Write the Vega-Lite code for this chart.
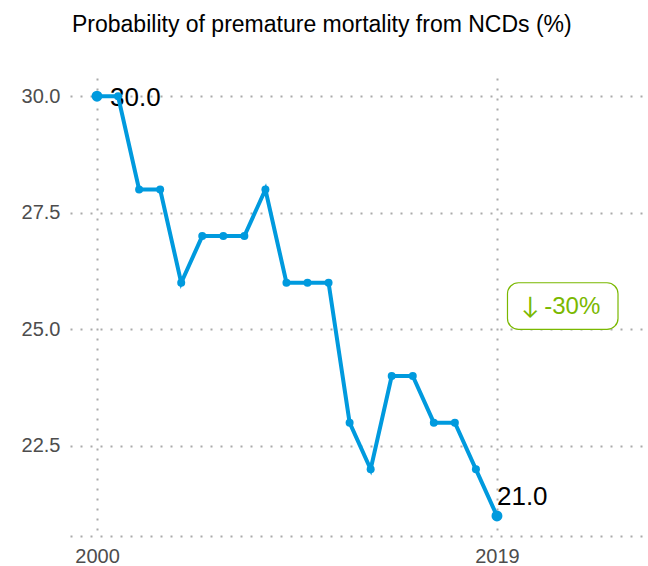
{
  "$schema": "https://vega.github.io/schema/vega-lite/v6.json",
  "width": 578,
  "height": 458,
  "autosize": {"type": "none"},
  "padding": {"left": 70, "top": 78, "right": 0, "bottom": 30},
  "background": "white",
  "title": {
    "text": "Probability of premature mortality from NCDs (%)",
    "anchor": "start",
    "frame": "group",
    "font": "Liberation Sans",
    "fontSize": 23,
    "fontWeight": "normal",
    "color": "#000000",
    "offset": 41,
    "dx": 2
  },
  "config": {
    "view": {"stroke": null},
    "axis": {
      "labelFont": "Liberation Sans",
      "labelFontSize": 20,
      "labelColor": "#4d4d4d",
      "ticks": false,
      "gridColor": "#aaaaaa",
      "gridDash": [2, 8],
      "gridWidth": 2,
      "title": null
    }
  },
  "datasets": {
    "series": [
      {"year": 2000, "value": 30},
      {"year": 2001, "value": 30},
      {"year": 2002, "value": 28},
      {"year": 2003, "value": 28},
      {"year": 2004, "value": 26},
      {"year": 2005, "value": 27},
      {"year": 2006, "value": 27},
      {"year": 2007, "value": 27},
      {"year": 2008, "value": 28},
      {"year": 2009, "value": 26},
      {"year": 2010, "value": 26},
      {"year": 2011, "value": 26},
      {"year": 2012, "value": 23},
      {"year": 2013, "value": 22},
      {"year": 2014, "value": 24},
      {"year": 2015, "value": 24},
      {"year": 2016, "value": 23},
      {"year": 2017, "value": 23},
      {"year": 2018, "value": 22},
      {"year": 2019, "value": 21}
    ],
    "badge": [
      {"x1": 2019.5, "x2": 2024.75, "y1": 25.0, "y2": 26.0, "xm": 2022.1, "ym": 25.5, "arrow": "↓", "label": "-30%"}
    ]
  },
  "layer": [
    {
      "data": {"name": "series"},
      "transform": [{"filter": "datum.year == 2000"}],
      "mark": {"type": "text", "align": "left", "baseline": "alphabetic", "dx": 13, "dy": 9.5, "font": "Liberation Sans", "fontSize": 26, "color": "#000000"},
      "encoding": {
        "x": {
          "field": "year", "type": "quantitative",
          "scale": {"domain": [1998.717, 2026.175], "nice": false, "zero": false},
          "axis": {
            "values": [2000, 2019], "format": "d",
            "grid": true, "domain": true, "domainColor": "#aaaaaa", "domainDash": [2, 8], "domainWidth": 2,
            "labelPadding": 10
          }
        },
        "y": {
          "field": "value", "type": "quantitative",
          "scale": {"domain": [20.57, 30.39], "nice": false, "zero": false},
          "axis": {
            "values": [22.5, 25, 27.5, 30], "format": ".1f",
            "grid": true, "domain": false, "labelPadding": 10
          }
        },
        "text": {"field": "value", "type": "quantitative", "format": ".1f"}
      }
    },
    {
      "data": {"name": "series"},
      "mark": {"type": "line", "color": "#009ADE", "strokeWidth": 4},
      "encoding": {
        "x": {"field": "year", "type": "quantitative"},
        "y": {"field": "value", "type": "quantitative"}
      }
    },
    {
      "data": {"name": "series"},
      "mark": {"type": "point", "filled": true, "opacity": 1, "color": "#009ADE", "size": 64},
      "encoding": {
        "x": {"field": "year", "type": "quantitative"},
        "y": {"field": "value", "type": "quantitative"}
      }
    },
    {
      "data": {"name": "series"},
      "transform": [{"filter": "datum.year == 2000 || datum.year == 2019"}],
      "mark": {"type": "point", "filled": true, "opacity": 1, "color": "#009ADE", "size": 120},
      "encoding": {
        "x": {"field": "year", "type": "quantitative"},
        "y": {"field": "value", "type": "quantitative"}
      }
    },
    {
      "data": {"name": "series"},
      "transform": [{"filter": "datum.year == 2019"}],
      "mark": {"type": "text", "align": "left", "baseline": "alphabetic", "dx": 0, "dy": -11, "font": "Liberation Sans", "fontSize": 26, "color": "#000000"},
      "encoding": {
        "x": {"field": "year", "type": "quantitative"},
        "y": {"field": "value", "type": "quantitative"},
        "text": {"field": "value", "type": "quantitative", "format": ".1f"}
      }
    },
    {
      "data": {"name": "badge"},
      "mark": {"type": "rect", "fill": "white", "stroke": "#7AB800", "strokeWidth": 1.2, "cornerRadius": 11},
      "encoding": {
        "x": {"field": "x1", "type": "quantitative"},
        "x2": {"field": "x2"},
        "y": {"field": "y1", "type": "quantitative"},
        "y2": {"field": "y2"}
      }
    },
    {
      "data": {"name": "badge"},
      "mark": {"type": "text", "align": "center", "baseline": "alphabetic", "dx": -32, "dy": 8, "font": "Lato", "fontSize": 24, "color": "#7AB800"},
      "encoding": {
        "x": {"field": "xm", "type": "quantitative"},
        "y": {"field": "ym", "type": "quantitative"},
        "text": {"field": "arrow"}
      }
    },
    {
      "data": {"name": "badge"},
      "mark": {"type": "text", "align": "left", "baseline": "alphabetic", "dx": -18, "dy": 8, "font": "Liberation Sans", "fontSize": 24, "color": "#7AB800"},
      "encoding": {
        "x": {"field": "xm", "type": "quantitative"},
        "y": {"field": "ym", "type": "quantitative"},
        "text": {"field": "label"}
      }
    }
  ]
}
